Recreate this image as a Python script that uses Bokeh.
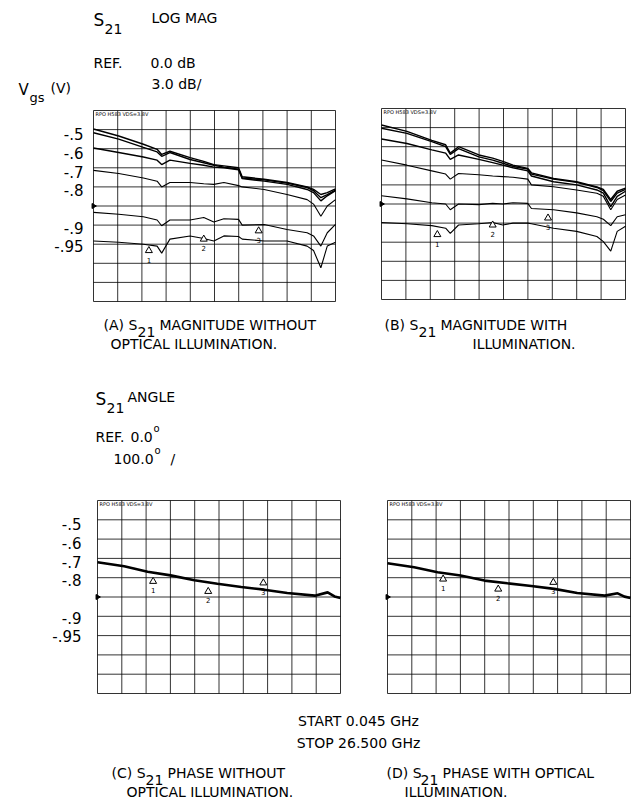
import numpy as np
from bokeh.plotting import figure
from bokeh.models import Range1d
from bokeh.core.properties import value
from bokeh.embed import file_html
from bokeh.resources import INLINE

# ---------------- data ----------------
FREQ_START, FREQ_STOP = 0.045, 26.5          # GHz
MAG_REF, MAG_PER_DIV = 0.0, 3.0              # dB
PH_REF, PH_PER_DIV = 0.0, 100.0              # degrees
N_DIV = 10

vgs_labels = ["-.5", "-.6", "-.7", "-.8", "-.9", "-.95"]

freq_mag = [0.045, 2.8, 5.5, 7.0, 7.5, 8.4, 10.6, 12.1, 13.2, 14.3, 15.9, 16.3,
            18.7, 21.2, 23.4, 24.1, 24.9, 25.6, 26.5]

# (A) S21 magnitude without illumination, dB
a_m050 = [12.1, 11.0, 9.7, 8.9, 8.1, 8.6, 7.6, 7.0, 6.5, 6.3, 6.0, 4.6, 4.2, 3.7, 3.0, 2.6, 1.8, 2.1, 2.7]
a_m060 = [11.5, 10.5, 9.2, 8.5, 7.8, 8.4, 7.3, 6.8, 6.4, 6.1, 5.8, 4.4, 4.1, 3.6, 2.9, 2.4, 1.3, 1.8, 2.5]
a_m070 = [9.1, 8.4, 7.7, 7.2, 6.5, 7.2, 6.7, 6.4, 6.1, 6.0, 5.7, 4.3, 3.9, 3.4, 2.6, 2.1, 0.8, 1.6, 2.4]
a_m080 = [5.6, 5.1, 4.4, 3.9, 3.0, 3.7, 3.7, 3.5, 3.4, 3.7, 3.2, 3.0, 2.6, 1.8, 1.0, 0.3, -1.6, 0.0, 1.0]
a_m090 = [-1.0, -1.3, -1.7, -2.2, -3.1, -2.2, -2.2, -1.8, -2.5, -2.0, -2.1, -3.0, -2.9, -3.7, -4.2, -4.7, -6.3, -4.2, -2.9]
a_m095 = [-5.5, -5.7, -6.0, -6.3, -7.4, -5.2, -4.7, -5.1, -5.5, -4.7, -4.8, -5.2, -5.5, -5.5, -6.3, -7.0, -9.7, -6.3, -5.7]

# (B) S21 magnitude with illumination, dB
b_m050 = [12.4, 11.4, 10.0, 9.3, 8.0, 9.0, 7.7, 7.2, 6.7, 6.1, 5.6, 4.9, 4.0, 3.5, 2.7, 2.3, 0.7, 2.0, 2.5]
b_m060 = [11.9, 11.1, 9.8, 9.0, 7.8, 8.7, 7.4, 6.9, 6.4, 5.9, 5.5, 4.7, 3.9, 3.4, 2.6, 2.1, 0.4, 1.7, 2.3]
b_m070 = [10.2, 9.5, 8.5, 8.0, 7.0, 7.7, 7.0, 6.5, 6.1, 5.7, 5.2, 4.4, 3.5, 3.0, 2.2, 1.7, -0.4, 1.2, 2.0]
b_m080 = [6.9, 6.1, 5.2, 4.7, 3.9, 4.8, 4.6, 4.4, 4.3, 4.2, 3.9, 3.0, 2.7, 2.2, 1.7, 1.2, -0.9, 0.7, 1.4]
b_m090 = [1.3, 0.8, 0.2, 0.0, -0.9, 0.0, -0.1, 0.1, 0.0, 0.2, 0.1, -0.7, -0.9, -1.4, -2.0, -2.4, -3.4, -2.0, -1.7]
b_m095 = [-2.9, -3.1, -3.4, -3.8, -4.6, -3.3, -3.1, -2.9, -3.3, -3.0, -3.0, -3.1, -3.8, -4.3, -5.1, -5.9, -7.4, -4.3, -3.5]

freq_ph = [0.045, 2.95, 5.5, 8.0, 10.6, 13.1, 15.7, 18.2, 20.7, 23.7, 25.1, 25.85, 26.5]
c_phase = [180, 159, 131, 112, 87, 69, 52, 38, 21, 7, 24, 3, -5]     # degrees
d_phase = [175, 154, 128, 111, 85, 71, 57, 42, 21, 7, 19, 2, -5]

marker_freq = [6.1, 12.1, 18.1]
marker_num = ["1", "2", "3"]
a_marker = [-7.0, -5.2, -3.9]
b_marker = [-4.8, -3.3, -2.2]
c_marker = [81, 29, 73]
d_marker = [93, 41, 76]

# ---------------- layout ----------------
W, H = 633, 809
OX, OY = 0, 0
FONT = value("DejaVu Sans")

p = figure(width=W, height=H, output_backend="svg", toolbar_location=None,
           x_range=Range1d(OX, OX + W), y_range=Range1d(OY + H, OY),
           x_axis_type=None, y_axis_type=None, min_border=0)
p.outline_line_color = None
p.background_fill_color = "white"
p.border_fill_color = "white"

# panel boxes in page pixels: left, right, top, bottom
boxes = {"A": (93, 335, 110, 301), "B": (381, 625, 108, 299),
         "C": (97, 340, 500, 693), "D": (387, 630, 500, 693)}


def add_ranges(name, box, vref, vdiv):
    x0, x1, y0, y1 = box
    vlo, vhi = vref - vdiv * N_DIV / 2, vref + vdiv * N_DIV / 2
    sx = (FREQ_STOP - FREQ_START) / (x1 - x0)
    p.extra_x_ranges[name] = Range1d(FREQ_START + (OX - x0) * sx,
                                     FREQ_START + (OX + W - x0) * sx)
    sy = (vhi - vlo) / (y1 - y0)
    p.extra_y_ranges[name] = Range1d(vlo - (OY + H - y1) * sy, vhi + (y0 - OY) * sy)
    return vlo, vhi


def draw_grid(name, vlo, vhi, vdiv):
    fx = np.linspace(FREQ_START, FREQ_STOP, N_DIV + 1)
    vy = np.arange(vlo, vhi + vdiv / 2, vdiv)
    kw = dict(x_range_name=name, y_range_name=name, line_color="black",
              line_width=1, line_alpha=0.8)
    p.segment(x0=fx, y0=[vlo] * len(fx), x1=fx, y1=[vhi] * len(fx), **kw)
    p.segment(x0=[FREQ_START] * len(vy), y0=vy, x1=[FREQ_STOP] * len(vy), y1=vy, **kw)
    p.scatter(x=[FREQ_START], y=[(vlo + vhi) / 2], marker="triangle", angle=-np.pi / 2,
              size=5, fill_color="black", line_color="black",
              x_range_name=name, y_range_name=name)


def draw_markers(name, ys):
    p.scatter(x=marker_freq, y=ys, marker="triangle", size=7, fill_color="white",
              line_color="black", line_width=1, x_range_name=name, y_range_name=name)
    p.text(x=marker_freq, y=ys, text=marker_num, y_offset=9, text_font=FONT,
           text_font_size="7px", text_align="center", text_baseline="middle",
           x_range_name=name, y_range_name=name)


def txt(x, y, s, size=14, align="left", style="normal", color="black"):
    p.text(x=[x], y=[y], text=[s], text_font=FONT, text_font_size=f"{size}px",
           text_align=align, text_baseline="middle", text_font_style=style,
           text_color=color)


def s21_caption(x, y, rest):
    # "(X) S" + subscript "21" + rest of the line
    txt(x, y, rest[0], size=14)
    txt(x + 34, y + 7, "21", size=14)
    txt(x + 56, y, rest[1], size=14)


# magnitude panels
for name, traces, mk in (("A", [a_m050, a_m060, a_m070, a_m080, a_m090, a_m095], a_marker),
                         ("B", [b_m050, b_m060, b_m070, b_m080, b_m090, b_m095], b_marker)):
    vlo, vhi = add_ranges(name, boxes[name], MAG_REF, MAG_PER_DIV)
    draw_grid(name, vlo, vhi, MAG_PER_DIV)
    for i, tr in enumerate(traces):
        p.line(freq_mag, tr, line_color="black", line_width=1.4 if i < 3 else 1.1,
               x_range_name=name, y_range_name=name)
    draw_markers(name, mk)

# phase panels
for name, tr, mk in (("C", c_phase, c_marker), ("D", d_phase, d_marker)):
    vlo, vhi = add_ranges(name, boxes[name], PH_REF, PH_PER_DIV)
    draw_grid(name, vlo, vhi, PH_PER_DIV)
    p.line(freq_ph, tr, line_color="black", line_width=2.6,
           x_range_name=name, y_range_name=name)
    draw_markers(name, mk)

# tiny instrument header inside each panel
for name, (x0, x1, y0, y1) in boxes.items():
    txt(x0 + 2, y0 + 3, "RPO H583 VDS=3.8V", size=5)

# ---------------- texts ----------------
# magnitude header
txt(93, 19, "S", size=17)
txt(104, 28, "21", size=14)
txt(151, 17, "LOG MAG", size=14)
txt(93, 62, "REF.", size=14)
txt(150, 62, "0.0 dB", size=14)
txt(151, 83, "3.0 dB/", size=14)
txt(18, 89, "V", size=15)
txt(29, 97, "gs", size=13)
txt(50, 87, "(V)", size=14)

ya = [133, 152, 171, 189, 227, 245]
for lab, y in zip(vgs_labels, ya):
    txt(83, y, lab, size=15, align="right")

# captions A, B
s21_caption(103, 324, ("(A) S", "MAGNITUDE WITHOUT"))
txt(110, 343, "OPTICAL ILLUMINATION.", size=14)
s21_caption(384, 324, ("(B) S", "MAGNITUDE WITH"))
txt(472, 343, "ILLUMINATION.", size=14)

# angle header
txt(95, 398, "S", size=17)
txt(106, 407, "21", size=14)
txt(127, 396, "ANGLE", size=14)
txt(95, 436, "REF.", size=14)
txt(130, 436, "0.0", size=14)
txt(153, 428, "o", size=10)
txt(113, 458, "100.0", size=14)
txt(154, 450, "o", size=10)
txt(170, 458, "/", size=14)

yc = [523, 542, 561, 579, 617, 635]
for lab, y in zip(vgs_labels, yc):
    txt(81, y, lab, size=15, align="right")

# sweep
txt(358, 720, "START 0.045 GHz", size=14, align="center")
txt(358, 742, "STOP 26.500 GHz", size=14, align="center")

# captions C, D
s21_caption(111, 772, ("(C) S", "PHASE WITHOUT"))
txt(126, 791, "OPTICAL ILLUMINATION.", size=14)
s21_caption(386, 772, ("(D) S", "PHASE WITH OPTICAL"))
txt(404, 791, "ILLUMINATION.", size=14)

open("out.html", "w").write(file_html(p, INLINE))
